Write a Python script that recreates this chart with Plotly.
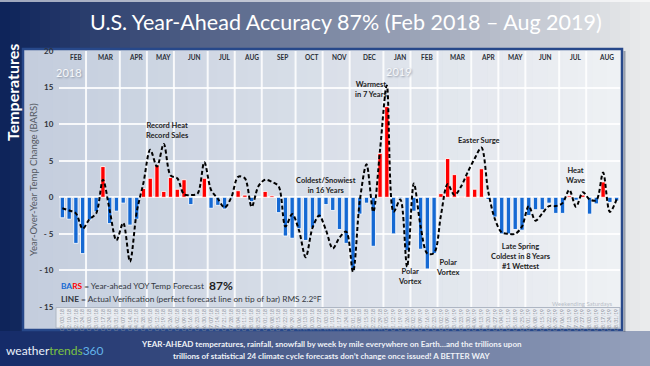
import plotly.graph_objects as go
import pandas as pd

# ---------------- data ----------------
weeks = pd.date_range("2018-02-03", "2019-08-31", freq="7D")  # weekending Saturdays
week_labels = [d.strftime("%m/%d/%y") for d in weeks]

forecast = [-2.8, -3.0, -6.3, -7.7, -3.1, -2.0, 4.2, -3.6, -1.9, -0.8,
            -3.8, -3.0, 1.2, 2.6, 4.4, 0.8, 2.7, 1.1, 2.4, -1.0,
            0.0, 2.6, -1.5, -1.1, -1.6, -0.2, 0.9, 0.3, -0.6, 0.0,
            0.8, 0.2, -2.1, -5.3, -5.6, -4.3, -5.9, -4.2, -2.8, -1.0,
            -1.8, -4.4, -6.3, -10.0, -2.3, -0.8, -6.7, 6.0, 12.4, -5.0,
            -0.2, -7.3, -1.9, -7.1, -9.8, -7.7, 0.5, 5.3, 3.1, 0.1,
            2.9, 1.1, 3.9, -0.3, -2.7, -5.0, -5.0, -4.4, -4.5, -2.5,
            -1.7, -1.7, -0.8, -2.2, -2.2, 0.2, -0.4, 0.3, -2.3, -0.9,
            2.1, -0.7, -0.5]

actual = [-1.5, -1.8, -2.2, -4.3, -3.0, -2.2, 2.4, -1.8, -5.9, -3.5,
          -8.8, -2.0, 2.0, 6.5, 4.2, 7.3, 3.0, 2.6, 0.4, 0.3,
          0.5, 4.8, 1.0, -0.2, -1.4, 0.0, 2.8, 2.6, -1.3, 1.5,
          2.4, 2.1, 1.5, -4.0, -2.3, -4.5, -8.2, -4.2, -2.5, -4.5,
          -7.0, -5.5, -4.7, -10.2, -0.5, 4.5, -2.0, 6.5, 15.3, -2.0,
          -0.3, -9.5, 1.9, -4.0, -7.7, -7.6, -2.5, 1.8, 0.3, 1.5,
          3.5, 5.3, 6.8, 0.8, -3.0, -4.8, -5.0, -5.0, -4.0, -1.2,
          -3.2, -2.2, -1.2, -1.2, -0.8, 1.0, -1.3, 0.7, -0.3, -0.4,
          3.4, -2.0, -0.3]

y_tickvals = [-15, -10, -5, 0, 5, 10, 15, 20]
y_ticktext = ["- 15", "- 10", "- 5", "0", "5", "10", "15", "20"]
month_abbr = ["JAN", "FEB", "MAR", "APR", "MAY", "JUN", "JUL", "AUG", "SEP", "OCT", "NOV", "DEC"]

# ---------------- geometry helpers ----------------
W, H = 650, 366
ML, MR, MT, MB = 59, 30, 51, 59
PW, PH = W - ML - MR, H - MT - MB


def px(x):
    return (x - ML) / PW


def py(y):
    return (H - MB - y) / PH


def lerp(c1, c2, t):
    a = [int(c1[i:i + 2], 16) for i in (1, 3, 5)]
    b = [int(c2[i:i + 2], 16) for i in (1, 3, 5)]
    return "rgb(%d,%d,%d)" % tuple(round(a[k] + (b[k] - a[k]) * t) for k in range(3))


FONT = "Lato"
shapes = []

# slide background gradient
N = 65
for i in range(N):
    x0, x1 = W * i / N, W * (i + 1) / N + 0.6
    shapes.append(dict(type="rect", xref="paper", yref="paper", layer="below",
                       x0=px(x0), x1=px(x1), y0=py(H), y1=py(0), line_width=0,
                       fillcolor=lerp("#0c2259", "#eceded", (i + 0.5) / N)))
# bottom band gradient
for i in range(N):
    x0, x1 = W * i / N, W * (i + 1) / N + 0.6
    shapes.append(dict(type="rect", xref="paper", yref="paper", layer="below",
                       x0=px(x0), x1=px(x1), y0=py(H), y1=py(331), line_width=0,
                       fillcolor=lerp("#142a68", "#97a3bd", (i + 0.5) / N)))
# top highlight line
shapes.append(dict(type="line", xref="paper", yref="paper", layer="below",
                   x0=px(0), x1=px(W), y0=py(1), y1=py(1),
                   line=dict(color="rgba(255,255,255,0.6)", width=2)))
# panel fill gradient
M = 40
pl, pr, pt, pb = 23, 622, 49, 330
for i in range(M):
    x0 = pl + (pr - pl) * i / M
    x1 = pl + (pr - pl) * (i + 1) / M + 0.6
    shapes.append(dict(type="rect", xref="paper", yref="paper", layer="below",
                       x0=px(x0), x1=px(x1), y0=py(pb), y1=py(pt), line_width=0,
                       fillcolor=lerp("#c3cddd", "#eff1f4", (i + 0.5) / M)))
# tick label strip
shapes.append(dict(type="rect", xref="paper", yref="paper", layer="below",
                   x0=px(56), x1=px(620), y0=py(328), y1=py(307.5),
                   fillcolor="#e9ecf1", line=dict(color="#aeb6c3", width=1)))
# panel border
shapes.append(dict(type="rect", xref="paper", yref="paper", layer="below",
                   x0=px(pl), x1=px(pr), y0=py(pb), y1=py(pt),
                   fillcolor="rgba(0,0,0,0)", line=dict(color="#27488a", width=2.5)))
shapes.append(dict(type="line", xref="paper", yref="paper", layer="below",
                   x0=px(pr + 2.5), x1=px(pr + 2.5), y0=py(pb + 2), y1=py(pt + 2),
                   line=dict(color="rgba(90,100,120,0.55)", width=2)))

# month boundaries / labels derived from the week list
month_groups = []
for i, d in enumerate(weeks):
    key = (d.year, d.month)
    if not month_groups or month_groups[-1][0] != key:
        month_groups.append([key, []])
    month_groups[-1][1].append(i)

annotations = []
for k, (key, idxs) in enumerate(month_groups):
    if k > 0:
        b = idxs[0] - 0.5
        shapes.append(dict(type="line", xref="x", yref="paper", layer="below",
                           x0=b, x1=b, y0=0, y1=1,
                           line=dict(color="rgba(255,255,255,0.85)", width=2)))
    center = (idxs[0] + idxs[-1]) / 2 + 0.5
    annotations.append(dict(x=center, y=py(57), xref="x", yref="paper",
                            xanchor="center", yanchor="middle",
                            text="<b>%s</b>" % month_abbr[key[1] - 1], showarrow=False,
                            font=dict(family=FONT, size=6.5, color="#2b2f38")))

bar_colors = ["#ff0000" if v > 0 else "#1569d3" for v in forecast]

fig = go.Figure()
fig.add_trace(go.Bar(x=week_labels, y=forecast, width=0.64,
                     marker=dict(color=bar_colors, line=dict(color="rgba(255,255,255,0.85)", width=1)),
                     showlegend=False))
fig.add_trace(go.Scatter(x=week_labels, y=actual, mode="lines",
                         line=dict(color="black", width=2, dash="4px,2.5px", shape="spline", smoothing=0.9),
                         showlegend=False))


def ann(x, y, text, size=7.5, color="#1e1e1e", **kw):
    d = dict(x=px(x), y=py(y), xref="paper", yref="paper", text=text, showarrow=False,
             xanchor="center", yanchor="middle",
             font=dict(family=FONT, size=size, color=color))
    d.update(kw)
    annotations.append(d)


# title & side text
ann(346, 22, "U.S. Year-Ahead Accuracy 87% (Feb 2018 \u2013 Aug 2019)", size=21.5, color="#ffffff")
ann(12, 92, "<b>Temperatures</b>", size=16, color="#ffffff", textangle=-90)
ann(33, 180, "Year-Over-Year Temp Change (BARS)", size=9.5, color="#555a63", textangle=-90)

# year labels
annotations.append(dict(x=px(69), y=py(72), xref="paper", yref="paper", text="2018", showarrow=False,
                        xanchor="center", yanchor="middle",
                        font=dict(family=FONT, size=11, color="#f7f8fa",
                                  shadow="1px 1px 2px #8a93a3")))
annotations.append(dict(x=px(399), y=py(71), xref="paper", yref="paper", text="2019", showarrow=False,
                        xanchor="center", yanchor="middle",
                        font=dict(family=FONT, size=11, color="#f7f8fa",
                                  shadow="1px 1px 2px #8a93a3")))

# event notes
ann(167, 130.5, "<b>Record Heat<br>Record Sales</b>", size=7.5)
ann(326, 185, "<b>Coldest/Snowiest<br>in 16 Years</b>", size=7.5)
ann(371, 89, "<b>Warmest<br>in 7 Years</b>", size=7.5)
ann(479, 140, "<b>Easter Surge</b>", size=7.5)
ann(410, 276.5, "<b>Polar<br>Vortex</b>", size=7.5)
ann(447, 267.5, "<b>Polar<br>Vortex</b>", size=7.5)
ann(521, 256, "<b>Late Spring<br>Coldest in 8 Years<br>#1 Wettest</b>", size=7.5)
ann(575, 175.5, "<b>Heat<br>Wave</b>", size=7.5)
ann(582, 303, "Weekending Saturdays", size=6, color="#b9bfc9")

# legend text
ann(59, 286, "<b><span style='color:#1569d3'>BA</span><span style='color:#ff0000'>RS</span></b>"
             " = Year-ahead YOY Temp Forecast", size=8.3, color="#333740", xanchor="left")
ann(207, 285, "<b>87%</b>", size=12, color="#1e1e1e", xanchor="left")
ann(59, 298.5, "<b>LINE</b> = Actual Verification (perfect forecast line on tip of bar) RMS 2.2<sup>o</sup>F",
    size=8.3, color="#333740", xanchor="left")

# bottom band text
ann(331, 344, "<b>YEAR-AHEAD temperatures, rainfall, snowfall by week by mile everywhere on Earth\u2026and the trillions upon</b>",
    size=8, color="#eef1f6")
ann(331, 356, "<b>trillions of statistical 24 climate cycle forecasts don\u2019t change once issued! A BETTER WAY</b>",
    size=8, color="#eef1f6")
ann(4, 350, "<span style='color:#e9f0fa'>weather</span><span style='color:#7cc243'>trends</span>"
            "<span style='color:#63b3ea'>360</span>", size=12, xanchor="left")

fig.update_layout(
    width=W, height=H,
    margin=dict(l=ML, r=MR, t=MT, b=MB, pad=0),
    paper_bgcolor="#0c2259",
    plot_bgcolor="rgba(0,0,0,0)",
    bargap=0.3,
    shapes=shapes,
    annotations=annotations,
    font=dict(family=FONT),
    xaxis=dict(type="category", range=[-0.5, len(week_labels) - 0.5], tickangle=-90,
               tickfont=dict(family=FONT, size=5, color="#8c929c"), showgrid=False,
               zeroline=False, showline=False, ticks="", automargin=False),
    yaxis=dict(range=[-15, 20], tickvals=y_tickvals, ticktext=y_ticktext,
               tickfont=dict(family=FONT, size=8, color="#30343c", weight="bold"),
               showgrid=True, gridcolor="rgba(255,255,255,0.85)", gridwidth=1.5,
               zeroline=False, showline=False, ticks="outside", ticklen=3,
               tickcolor="rgba(0,0,0,0)", automargin=False),
)

fig.write_html("out.html", config={"displayModeBar": False},
               post_script="document.body.style.margin='0';document.body.style.overflow='hidden';")
